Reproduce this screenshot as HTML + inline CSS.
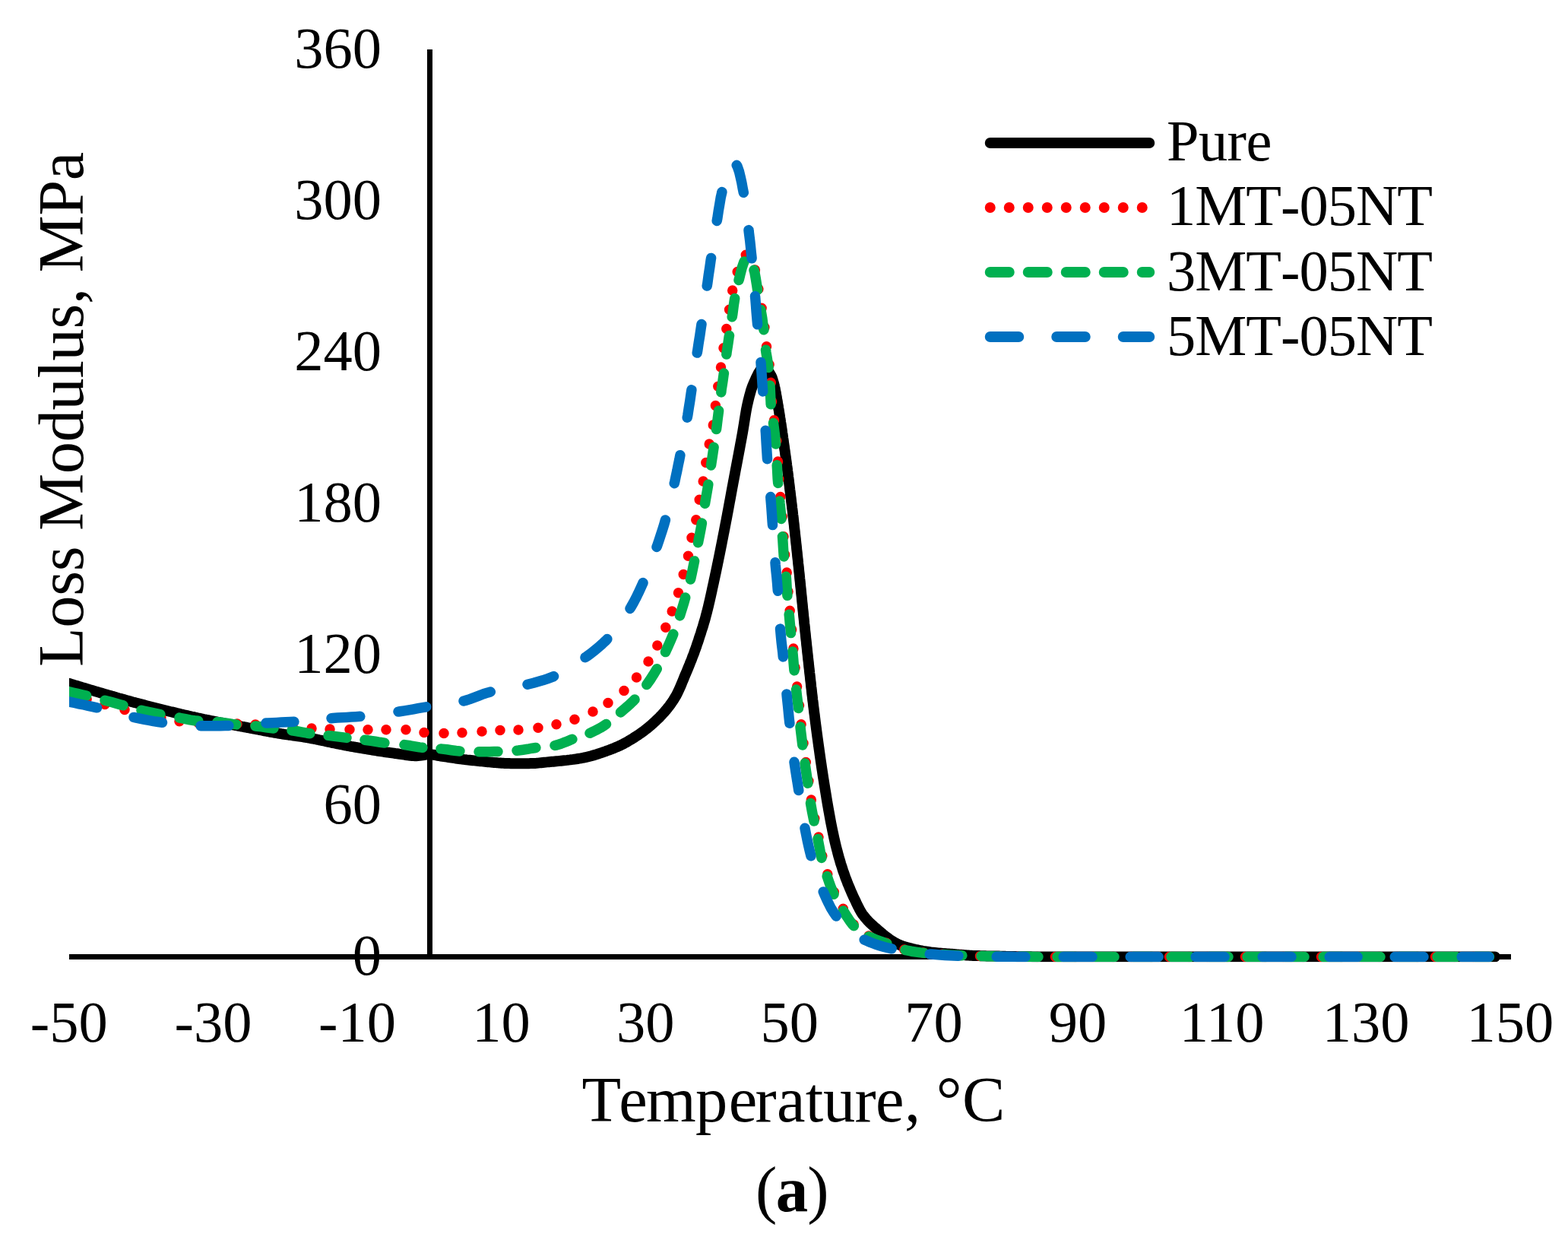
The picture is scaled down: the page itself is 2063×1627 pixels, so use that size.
<!DOCTYPE html>
<html lang="en"><head><meta charset="utf-8"><title>Loss Modulus vs Temperature</title>
<style>html,body{margin:0;padding:0;background:#fff}body{width:2063px;height:1627px;overflow:hidden}svg{display:block}</style>
</head><body>
<svg width="2063" height="1627" viewBox="0 0 2063 1627" role="img" aria-label="Loss modulus versus temperature chart"><defs><clipPath id="plot"><rect x="91" y="0" width="1900" height="1265.20"/></clipPath></defs><rect x="91" y="1255" width="1897" height="7" fill="#000"/>
<rect x="562" y="65" width="7" height="1193" fill="#000"/>
<g clip-path="url(#plot)" fill="none" stroke-width="13.5" stroke-linecap="round" stroke-linejoin="round">
<path d="M60.0 890.0L62.0 890.6L64.0 891.2L66.0 891.7L68.0 892.3L70.0 892.9L72.0 893.5L74.0 894.0L76.0 894.6L78.0 895.2L80.0 895.8L82.0 896.4L84.0 896.9L86.0 897.5L88.0 898.1L90.0 898.7L92.0 899.3L94.0 899.9L96.0 900.5L98.0 901.1L100.0 901.7L102.0 902.3L104.0 902.9L106.0 903.5L108.0 904.1L110.0 904.7L112.0 905.3L114.0 905.9L116.0 906.5L118.0 907.1L120.0 907.7L122.0 908.3L124.0 908.9L126.0 909.5L128.0 910.0L130.0 910.6L132.0 911.2L134.0 911.8L136.0 912.4L138.0 913.0L140.0 913.5L142.0 914.1L144.0 914.7L146.0 915.3L148.0 915.9L150.0 916.4L152.0 917.0L154.0 917.6L156.0 918.2L158.0 918.7L160.0 919.3L162.0 919.9L164.0 920.4L166.0 921.0L168.0 921.5L170.0 922.1L172.0 922.6L174.0 923.2L176.0 923.7L178.0 924.3L180.0 924.8L182.0 925.3L184.0 925.9L186.0 926.4L188.0 926.9L190.0 927.4L192.0 928.0L194.0 928.5L196.0 929.0L198.0 929.5L200.0 930.0L202.0 930.5L204.0 931.0L206.0 931.5L208.0 932.0L210.0 932.5L212.0 933.0L214.0 933.5L216.0 934.0L218.0 934.5L220.0 935.0L222.0 935.5L224.0 936.0L226.0 936.4L228.0 936.9L230.0 937.4L232.0 937.9L234.0 938.3L236.0 938.8L238.0 939.3L240.0 939.7L242.0 940.2L244.0 940.7L246.0 941.1L248.0 941.6L250.0 942.0L252.0 942.5L254.0 942.9L256.0 943.4L258.0 943.8L260.0 944.3L262.0 944.7L264.0 945.1L266.0 945.5L268.0 946.0L270.0 946.4L272.0 946.8L274.0 947.2L276.0 947.6L278.0 948.0L280.0 948.4L282.0 948.8L284.0 949.2L286.0 949.6L288.0 950.0L290.0 950.4L292.0 950.7L294.0 951.1L296.0 951.5L298.0 951.9L300.0 952.2L302.0 952.6L304.0 953.0L306.0 953.3L308.0 953.7L310.0 954.1L312.0 954.4L314.0 954.8L316.0 955.2L318.0 955.6L320.0 955.9L322.0 956.3L324.0 956.7L326.0 957.1L328.0 957.4L330.0 957.8L332.0 958.2L334.0 958.6L336.0 959.0L338.0 959.4L340.0 959.7L342.0 960.1L344.0 960.5L346.0 960.9L348.0 961.3L350.0 961.7L352.0 962.0L354.0 962.4L356.0 962.8L358.0 963.1L360.0 963.5L362.0 963.8L364.0 964.2L366.0 964.5L368.0 964.8L370.0 965.2L372.0 965.5L374.0 965.8L376.0 966.1L378.0 966.4L380.0 966.7L382.0 966.9L384.0 967.2L386.0 967.5L388.0 967.7L390.0 968.0L392.0 968.3L394.0 968.6L396.0 968.9L398.0 969.2L400.0 969.5L402.0 969.8L404.0 970.2L406.0 970.5L408.0 970.9L410.0 971.3L412.0 971.7L414.0 972.0L416.0 972.4L418.0 972.8L420.0 973.3L422.0 973.7L424.0 974.1L426.0 974.5L428.0 974.9L430.0 975.4L432.0 975.8L434.0 976.2L436.0 976.6L438.0 977.1L440.0 977.5L442.0 977.9L444.0 978.3L446.0 978.7L448.0 979.1L450.0 979.5L452.0 979.9L454.0 980.3L456.0 980.7L458.0 981.1L460.0 981.4L462.0 981.8L464.0 982.1L466.0 982.5L468.0 982.8L470.0 983.2L472.0 983.5L474.0 983.9L476.0 984.2L478.0 984.5L480.0 984.9L482.0 985.2L484.0 985.5L486.0 985.9L488.0 986.2L490.0 986.5L492.0 986.8L494.0 987.1L496.0 987.5L498.0 987.8L500.0 988.1L502.0 988.4L504.0 988.7L506.0 989.0L508.0 989.3L510.0 989.6L512.0 989.8L514.0 990.1L516.0 990.4L518.0 990.7L520.0 991.0L522.0 991.2L524.0 991.5L526.0 991.8L528.0 992.1L530.0 992.4L532.0 992.7L534.0 993.0L536.0 993.3L538.0 993.5L540.0 993.8L542.0 994.0L544.0 994.1L546.0 994.2L548.0 994.2L550.0 994.1L552.0 993.9L554.0 993.6L556.0 993.3L558.0 993.0L560.0 992.7L562.0 992.4L564.0 992.3L566.0 992.3L568.0 992.5L570.0 992.7L572.0 993.0L574.0 993.4L576.0 993.8L578.0 994.2L580.0 994.5L582.0 994.8L584.0 995.1L586.0 995.4L588.0 995.7L590.0 996.0L592.0 996.3L594.0 996.6L596.0 996.9L598.0 997.2L600.0 997.5L602.0 997.8L604.0 998.1L606.0 998.4L608.0 998.6L610.0 998.9L612.0 999.1L614.0 999.4L616.0 999.6L618.0 999.8L620.0 1000.0L622.0 1000.2L624.0 1000.4L626.0 1000.6L628.0 1000.8L630.0 1001.0L632.0 1001.2L634.0 1001.4L636.0 1001.6L638.0 1001.8L640.0 1002.0L642.0 1002.2L644.0 1002.4L646.0 1002.6L648.0 1002.8L650.0 1002.9L652.0 1003.1L654.0 1003.2L656.0 1003.4L658.0 1003.5L660.0 1003.7L662.0 1003.8L664.0 1003.9L666.0 1004.0L668.0 1004.1L670.0 1004.1L672.0 1004.2L674.0 1004.2L676.0 1004.3L678.0 1004.3L680.0 1004.3L682.0 1004.3L684.0 1004.3L686.0 1004.3L688.0 1004.3L690.0 1004.2L692.0 1004.2L694.0 1004.2L696.0 1004.2L698.0 1004.1L700.0 1004.1L702.0 1004.0L704.0 1003.9L706.0 1003.8L708.0 1003.6L710.0 1003.4L712.0 1003.2L714.0 1003.0L716.0 1002.8L718.0 1002.6L720.0 1002.4L722.0 1002.2L724.0 1002.0L726.0 1001.8L728.0 1001.7L730.0 1001.5L732.0 1001.3L734.0 1001.1L736.0 1000.9L738.0 1000.7L740.0 1000.5L742.0 1000.3L744.0 1000.1L746.0 999.9L748.0 999.6L750.0 999.4L752.0 999.1L754.0 998.9L756.0 998.6L758.0 998.3L760.0 998.0L762.0 997.7L764.0 997.4L766.0 997.0L768.0 996.6L770.0 996.2L772.0 995.7L774.0 995.2L776.0 994.7L778.0 994.2L780.0 993.6L782.0 993.1L784.0 992.5L786.0 991.8L788.0 991.2L790.0 990.5L792.0 989.9L794.0 989.2L796.0 988.5L798.0 987.7L800.0 987.0L802.0 986.3L804.0 985.5L806.0 984.7L808.0 983.9L810.0 983.1L812.0 982.3L814.0 981.4L816.0 980.5L818.0 979.5L820.0 978.5L822.0 977.4L824.0 976.3L825.8 975.3L827.5 974.3L829.2 973.3L831.0 972.2L832.8 971.1L834.5 970.0L836.2 968.9L838.0 967.8L839.8 966.6L841.5 965.4L843.2 964.2L845.0 962.9L846.8 961.7L848.5 960.3L850.2 959.0L852.0 957.6L853.8 956.1L855.5 954.7L857.2 953.2L858.8 951.8L860.2 950.5L861.8 949.1L863.2 947.7L864.8 946.2L866.2 944.8L867.8 943.3L869.2 941.7L870.8 940.1L872.2 938.5L873.8 936.9L875.2 935.1L876.8 933.4L878.2 931.5L879.5 929.9L880.8 928.3L882.0 926.6L883.2 924.8L884.5 923.0L885.8 921.1L887.0 919.1L888.2 917.1L889.5 915.0L890.5 913.2L891.5 911.2L892.5 909.1L893.5 906.9L894.5 904.7L895.5 902.4L896.5 900.0L897.5 897.5L898.5 895.1L899.5 892.7L900.5 890.2L901.5 887.8L902.5 885.5L903.5 883.1L904.5 880.7L905.5 878.3L906.5 875.8L907.5 873.4L908.2 871.5L909.0 869.6L909.8 867.7L910.5 865.8L911.2 863.8L912.0 861.9L912.8 859.9L913.5 857.9L914.2 855.8L915.0 853.7L915.8 851.6L916.5 849.4L917.2 847.2L918.0 845.0L918.8 842.7L919.5 840.4L920.2 838.1L921.0 835.8L921.8 833.5L922.5 831.1L923.2 828.7L924.0 826.4L924.8 824.0L925.5 821.5L926.2 819.0L927.0 816.5L927.8 813.8L928.5 811.1L929.2 808.3L930.0 805.4L930.5 803.4L931.0 801.4L931.5 799.4L932.0 797.3L932.5 795.2L933.0 793.0L933.5 790.9L934.0 788.7L934.5 786.5L935.0 784.2L935.5 782.0L936.0 779.7L936.5 777.4L937.0 775.1L937.5 772.8L938.0 770.5L938.5 768.2L939.0 765.9L939.5 763.6L940.0 761.2L940.5 758.9L941.0 756.6L941.5 754.2L942.0 751.9L942.5 749.5L943.0 747.1L943.5 744.7L944.0 742.3L944.5 739.9L945.0 737.5L945.5 735.0L946.0 732.6L946.5 730.1L947.0 727.6L947.5 725.1L948.0 722.6L948.5 720.1L949.0 717.6L949.5 715.1L950.0 712.5L950.5 710.0L951.0 707.4L951.5 704.9L952.0 702.3L952.5 699.8L953.0 697.2L953.5 694.6L954.0 692.0L954.5 689.4L955.0 686.8L955.5 684.2L956.0 681.6L956.5 678.9L957.0 676.2L957.5 673.6L958.0 670.9L958.5 668.2L959.0 665.5L959.5 662.8L960.0 660.1L960.5 657.4L961.0 654.7L961.5 652.0L962.0 649.3L962.5 646.5L963.0 643.8L963.5 641.1L964.0 638.4L964.5 635.8L965.0 633.1L965.5 630.4L966.0 627.7L966.5 625.1L967.0 622.4L967.5 619.8L968.0 617.1L968.5 614.5L969.0 611.9L969.5 609.2L970.0 606.6L970.5 604.0L971.0 601.3L971.5 598.7L972.0 596.0L972.5 593.4L973.0 590.7L973.5 588.0L974.0 585.3L974.5 582.6L975.0 579.9L975.5 577.2L976.0 574.4L976.5 571.7L977.0 568.9L977.5 566.0L978.0 563.0L978.5 559.9L979.0 556.8L979.5 553.6L980.0 550.5L980.5 547.4L981.0 544.4L981.5 541.4L982.0 538.6L982.5 536.0L983.0 533.5L983.5 531.2L984.0 529.1L984.5 526.9L985.0 524.9L985.5 522.9L986.0 520.9L986.8 518.1L987.5 515.5L988.2 513.0L989.0 510.7L989.8 508.6L990.5 506.7L991.5 504.4L992.5 502.1L993.5 499.9L994.5 497.6L995.5 495.5L996.5 493.4L997.5 491.5L998.5 489.7L999.8 487.7L1001.0 486.0L1002.5 484.5L1004.5 483.5L1006.5 483.9L1008.2 485.1L1009.8 486.7L1011.0 488.4L1012.2 490.3L1013.5 492.3L1014.8 494.5L1015.8 496.8L1016.5 499.0L1017.2 501.4L1018.0 504.1L1018.8 507.0L1019.2 509.1L1019.8 511.5L1020.2 514.0L1020.8 516.6L1021.2 519.4L1021.8 522.2L1022.2 525.1L1022.8 528.0L1023.2 530.9L1023.8 533.8L1024.2 536.8L1024.8 539.8L1025.2 542.9L1025.8 546.0L1026.2 549.2L1026.8 552.5L1027.2 555.7L1027.8 559.0L1028.2 562.3L1028.8 565.7L1029.2 569.1L1029.8 572.6L1030.2 576.1L1030.8 579.7L1031.2 583.2L1031.8 586.8L1032.2 590.4L1032.8 593.9L1033.2 597.5L1033.8 601.1L1034.2 604.7L1034.8 608.4L1035.2 612.1L1035.8 615.8L1036.2 619.6L1036.8 623.5L1037.2 627.5L1037.5 629.5L1037.8 631.5L1038.0 633.5L1038.2 635.6L1038.5 637.6L1038.8 639.7L1039.0 641.8L1039.2 643.8L1039.5 645.9L1039.8 647.9L1040.0 650.0L1040.2 652.1L1040.5 654.1L1040.8 656.2L1041.0 658.2L1041.2 660.3L1041.5 662.3L1041.8 664.4L1042.0 666.4L1042.2 668.5L1042.5 670.6L1042.8 672.7L1043.0 674.8L1043.2 677.0L1043.5 679.1L1043.8 681.3L1044.0 683.5L1044.2 685.7L1044.5 688.0L1044.8 690.2L1045.0 692.5L1045.2 694.8L1045.5 697.1L1045.8 699.4L1046.0 701.7L1046.2 704.0L1046.5 706.3L1046.8 708.6L1047.0 710.9L1047.2 713.2L1047.5 715.6L1047.8 717.9L1048.0 720.2L1048.2 722.5L1048.5 724.9L1048.8 727.2L1049.0 729.6L1049.2 731.9L1049.5 734.3L1049.8 736.7L1050.0 739.0L1050.2 741.4L1050.5 743.8L1050.8 746.2L1051.0 748.6L1051.2 751.0L1051.5 753.4L1051.8 755.8L1052.0 758.3L1052.2 760.7L1052.5 763.1L1052.8 765.6L1053.0 768.0L1053.2 770.5L1053.5 773.0L1053.8 775.5L1054.0 778.0L1054.2 780.5L1054.5 783.0L1054.8 785.5L1055.0 788.0L1055.2 790.5L1055.5 793.0L1055.8 795.5L1056.0 798.0L1056.2 800.5L1056.5 802.9L1056.8 805.4L1057.0 807.8L1057.2 810.3L1057.5 812.7L1057.8 815.1L1058.0 817.5L1058.2 819.9L1058.5 822.3L1058.8 824.7L1059.0 827.1L1059.2 829.5L1059.5 831.9L1059.8 834.3L1060.0 836.6L1060.2 839.0L1060.5 841.4L1060.8 843.7L1061.0 846.1L1061.2 848.4L1061.5 850.7L1061.8 853.1L1062.0 855.4L1062.2 857.7L1062.5 860.0L1062.8 862.3L1063.0 864.6L1063.2 866.9L1063.5 869.2L1063.8 871.5L1064.0 873.7L1064.2 876.0L1064.5 878.3L1064.8 880.6L1065.0 882.8L1065.2 885.1L1065.5 887.3L1065.8 889.6L1066.0 891.8L1066.2 894.0L1066.5 896.3L1066.8 898.5L1067.0 900.8L1067.2 903.0L1067.5 905.2L1067.8 907.4L1068.0 909.6L1068.2 911.8L1068.5 914.0L1068.8 916.2L1069.0 918.3L1069.2 920.4L1069.5 922.5L1069.8 924.6L1070.0 926.7L1070.2 928.8L1070.5 930.8L1070.8 932.9L1071.0 934.9L1071.2 936.9L1071.5 938.9L1071.8 940.9L1072.0 942.9L1072.5 946.9L1073.0 950.8L1073.5 954.6L1074.0 958.5L1074.5 962.3L1075.0 966.0L1075.5 969.8L1076.0 973.4L1076.5 977.1L1077.0 980.7L1077.5 984.3L1078.0 987.9L1078.5 991.4L1079.0 995.0L1079.5 998.4L1080.0 1001.9L1080.5 1005.3L1081.0 1008.7L1081.5 1012.0L1082.0 1015.3L1082.5 1018.6L1083.0 1021.8L1083.5 1025.0L1084.0 1028.2L1084.5 1031.3L1085.0 1034.4L1085.5 1037.5L1086.0 1040.6L1086.5 1043.7L1087.0 1046.7L1087.5 1049.8L1088.0 1052.8L1088.5 1055.8L1089.0 1058.7L1089.5 1061.6L1090.0 1064.4L1090.5 1067.2L1091.0 1070.0L1091.5 1072.8L1092.0 1075.5L1092.5 1078.2L1093.0 1080.9L1093.5 1083.5L1094.0 1086.0L1094.5 1088.5L1095.0 1091.0L1095.5 1093.4L1096.0 1095.8L1096.5 1098.1L1097.0 1100.4L1097.5 1102.7L1098.0 1104.9L1098.5 1107.1L1099.0 1109.3L1099.5 1111.4L1100.0 1113.4L1100.5 1115.4L1101.0 1117.3L1101.8 1120.2L1102.5 1123.0L1103.2 1125.7L1104.0 1128.4L1104.8 1131.0L1105.5 1133.5L1106.2 1136.0L1107.0 1138.4L1107.8 1140.8L1108.5 1143.1L1109.2 1145.3L1110.0 1147.5L1110.8 1149.7L1111.5 1151.7L1112.2 1153.8L1113.0 1155.8L1113.8 1157.8L1114.5 1159.7L1115.2 1161.7L1116.0 1163.6L1116.8 1165.4L1117.8 1167.9L1118.8 1170.2L1119.8 1172.6L1120.8 1174.9L1121.8 1177.1L1122.8 1179.3L1123.8 1181.4L1124.8 1183.5L1125.8 1185.6L1126.8 1187.8L1127.8 1189.8L1128.8 1191.9L1129.8 1193.8L1130.8 1195.8L1131.8 1197.6L1133.0 1199.7L1134.2 1201.7L1135.5 1203.4L1136.8 1205.1L1138.0 1206.7L1139.5 1208.4L1141.0 1210.1L1142.5 1211.7L1144.0 1213.2L1145.5 1214.7L1147.0 1216.1L1148.5 1217.4L1150.2 1218.9L1152.0 1220.5L1153.8 1222.0L1155.5 1223.5L1157.2 1225.0L1159.0 1226.5L1160.8 1227.9L1162.5 1229.4L1164.2 1230.8L1166.0 1232.1L1167.8 1233.4L1169.5 1234.7L1171.2 1236.0L1173.0 1237.1L1174.8 1238.3L1176.5 1239.3L1178.2 1240.3L1180.2 1241.3L1182.2 1242.3L1184.2 1243.1L1186.2 1243.8L1188.2 1244.5L1190.2 1245.2L1192.2 1245.8L1194.2 1246.4L1196.2 1246.9L1198.2 1247.4L1200.2 1247.9L1202.2 1248.3L1204.2 1248.8L1206.2 1249.2L1208.2 1249.6L1210.2 1250.0L1212.2 1250.4L1214.2 1250.8L1216.2 1251.1L1218.2 1251.4L1220.2 1251.8L1222.2 1252.0L1224.2 1252.3L1226.2 1252.6L1228.2 1252.8L1230.2 1253.0L1232.2 1253.2L1234.2 1253.4L1236.2 1253.6L1238.2 1253.7L1240.2 1253.9L1242.2 1254.1L1244.2 1254.2L1246.2 1254.4L1248.2 1254.5L1250.2 1254.7L1252.2 1254.8L1254.2 1255.0L1256.2 1255.1L1258.2 1255.3L1260.2 1255.4L1262.2 1255.6L1264.2 1255.8L1266.2 1256.0L1268.2 1256.1L1270.2 1256.3L1272.2 1256.5L1274.2 1256.6L1276.2 1256.7L1278.2 1256.8L1280.2 1256.9L1282.2 1257.0L1284.2 1257.0L1286.2 1257.1L1288.2 1257.1L1290.2 1257.2L1292.2 1257.2L1294.2 1257.3L1296.2 1257.3L1298.2 1257.4L1300.2 1257.4L1302.2 1257.4L1304.2 1257.5L1306.2 1257.5L1308.2 1257.5L1310.2 1257.6L1312.2 1257.6L1314.2 1257.6L1316.2 1257.7L1318.2 1257.7L1320.2 1257.8L1322.2 1257.8L1324.2 1257.9L1326.2 1257.9L1328.2 1258.0L1330.2 1258.0L1332.2 1258.0L1334.2 1258.1L1336.2 1258.1L1338.2 1258.2L1340.2 1258.2L1342.2 1258.2L1344.2 1258.2L1346.2 1258.3L1348.2 1258.3L1350.2 1258.3L1352.2 1258.3L1354.2 1258.3L1356.2 1258.3L1358.2 1258.4L1360.2 1258.4L1362.2 1258.4L1364.2 1258.4L1366.2 1258.4L1368.2 1258.4L1370.2 1258.4L1372.2 1258.4L1374.2 1258.4L1376.2 1258.4L1378.2 1258.5L1380.2 1258.5L1382.2 1258.5L1384.2 1258.5L1386.2 1258.5L1388.2 1258.5L1390.2 1258.5L1392.2 1258.5L1394.2 1258.5L1396.2 1258.5L1398.2 1258.5L1400.2 1258.5L1402.2 1258.5L1404.2 1258.5L1406.2 1258.5L1408.2 1258.5L1410.2 1258.5L1412.2 1258.5L1414.2 1258.5L1416.2 1258.5L1418.2 1258.5L1420.2 1258.5L1422.2 1258.5L1424.2 1258.5L1426.2 1258.5L1428.2 1258.5L1430.2 1258.5L1432.2 1258.5L1434.2 1258.5L1436.2 1258.5L1438.2 1258.5L1440.2 1258.5L1442.2 1258.5L1444.2 1258.5L1446.2 1258.5L1448.2 1258.5L1450.2 1258.5L1452.2 1258.5L1454.2 1258.5L1456.2 1258.5L1458.2 1258.5L1460.2 1258.5L1462.2 1258.5L1464.2 1258.5L1466.2 1258.5L1468.2 1258.5L1470.2 1258.5L1472.2 1258.5L1474.2 1258.5L1476.2 1258.5L1478.2 1258.5L1480.2 1258.5L1482.2 1258.5L1484.2 1258.5L1486.2 1258.5L1488.2 1258.5L1490.2 1258.5L1492.2 1258.5L1494.2 1258.5L1496.2 1258.5L1498.2 1258.5L1500.2 1258.5L1502.2 1258.5L1504.2 1258.5L1506.2 1258.5L1508.2 1258.5L1510.2 1258.5L1512.2 1258.5L1514.2 1258.5L1516.2 1258.5L1518.2 1258.5L1520.2 1258.5L1522.2 1258.5L1524.2 1258.5L1526.2 1258.5L1528.2 1258.5L1530.2 1258.5L1532.2 1258.5L1534.2 1258.5L1536.2 1258.5L1538.2 1258.5L1540.2 1258.5L1542.2 1258.5L1544.2 1258.5L1546.2 1258.5L1548.2 1258.5L1550.2 1258.5L1552.2 1258.5L1554.2 1258.5L1556.2 1258.5L1558.2 1258.5L1560.2 1258.5L1562.2 1258.5L1564.2 1258.5L1566.2 1258.5L1568.2 1258.5L1570.2 1258.5L1572.2 1258.5L1574.2 1258.5L1576.2 1258.5L1578.2 1258.5L1580.2 1258.5L1582.2 1258.5L1584.2 1258.5L1586.2 1258.5L1588.2 1258.5L1590.2 1258.5L1592.2 1258.5L1594.2 1258.5L1596.2 1258.5L1598.2 1258.5L1600.2 1258.5L1602.2 1258.5L1604.2 1258.5L1606.2 1258.5L1608.2 1258.5L1610.2 1258.5L1612.2 1258.5L1614.2 1258.5L1616.2 1258.5L1618.2 1258.5L1620.2 1258.5L1622.2 1258.5L1624.2 1258.5L1626.2 1258.5L1628.2 1258.5L1630.2 1258.5L1632.2 1258.5L1634.2 1258.5L1636.2 1258.5L1638.2 1258.5L1640.2 1258.5L1642.2 1258.5L1644.2 1258.5L1646.2 1258.5L1648.2 1258.5L1650.2 1258.5L1652.2 1258.5L1654.2 1258.5L1656.2 1258.5L1658.2 1258.5L1660.2 1258.5L1662.2 1258.5L1664.2 1258.5L1666.2 1258.5L1668.2 1258.5L1670.2 1258.5L1672.2 1258.5L1674.2 1258.5L1676.2 1258.5L1678.2 1258.5L1680.2 1258.5L1682.2 1258.5L1684.2 1258.5L1686.2 1258.5L1688.2 1258.5L1690.2 1258.5L1692.2 1258.5L1694.2 1258.5L1696.2 1258.5L1698.2 1258.5L1700.2 1258.5L1702.2 1258.5L1704.2 1258.5L1706.2 1258.5L1708.2 1258.5L1710.2 1258.5L1712.2 1258.5L1714.2 1258.5L1716.2 1258.5L1718.2 1258.5L1720.2 1258.5L1722.2 1258.5L1724.2 1258.5L1726.2 1258.5L1728.2 1258.5L1730.2 1258.5L1732.2 1258.5L1734.2 1258.5L1736.2 1258.5L1738.2 1258.5L1740.2 1258.5L1742.2 1258.5L1744.2 1258.5L1746.2 1258.5L1748.2 1258.5L1750.2 1258.5L1752.2 1258.5L1754.2 1258.5L1756.2 1258.5L1758.2 1258.5L1760.2 1258.5L1762.2 1258.5L1764.2 1258.5L1766.2 1258.5L1768.2 1258.5L1770.2 1258.5L1772.2 1258.5L1774.2 1258.5L1776.2 1258.5L1778.2 1258.5L1780.2 1258.5L1782.2 1258.5L1784.2 1258.5L1786.2 1258.5L1788.2 1258.5L1790.2 1258.5L1792.2 1258.5L1794.2 1258.5L1796.2 1258.5L1798.2 1258.5L1800.2 1258.5L1802.2 1258.5L1804.2 1258.5L1806.2 1258.5L1808.2 1258.5L1810.2 1258.5L1812.2 1258.5L1814.2 1258.5L1816.2 1258.5L1818.2 1258.5L1820.2 1258.5L1822.2 1258.5L1824.2 1258.5L1826.2 1258.5L1828.2 1258.5L1830.2 1258.5L1832.2 1258.5L1834.2 1258.5L1836.2 1258.5L1838.2 1258.5L1840.2 1258.5L1842.2 1258.5L1844.2 1258.5L1846.2 1258.5L1848.2 1258.5L1850.2 1258.5L1852.2 1258.5L1854.2 1258.5L1856.2 1258.5L1858.2 1258.5L1860.2 1258.5L1862.2 1258.5L1864.2 1258.5L1866.2 1258.5L1868.2 1258.5L1870.2 1258.5L1872.2 1258.5L1874.2 1258.5L1876.2 1258.5L1878.2 1258.5L1880.2 1258.5L1882.2 1258.5L1884.2 1258.5L1886.2 1258.5L1888.2 1258.5L1890.2 1258.5L1892.2 1258.5L1894.2 1258.5L1896.2 1258.5L1898.2 1258.5L1900.2 1258.5L1902.2 1258.5L1904.2 1258.5L1906.2 1258.5L1908.2 1258.5L1910.2 1258.5L1912.2 1258.5L1914.2 1258.5L1916.2 1258.5L1918.2 1258.5L1920.2 1258.5L1922.2 1258.5L1924.2 1258.5L1926.2 1258.5L1928.2 1258.5L1930.2 1258.5L1932.2 1258.5L1934.2 1258.5L1936.2 1258.5L1938.2 1258.5L1940.2 1258.5L1942.2 1258.5L1944.2 1258.5L1946.2 1258.5L1948.2 1258.5L1950.2 1258.5L1952.2 1258.5L1954.2 1258.5L1956.2 1258.5L1958.2 1258.5L1960.2 1258.5L1962.2 1258.5L1964.2 1258.5L1966.2 1258.5L1967.0 1258.5" stroke="#000" stroke-width="14"/>
<path d="M65.5 907.9h0M90.0 912.8h0M114.1 919.4h0M138.0 926.6h0M164.0 933.4h0M187.9 938.9h0M211.9 944.2h0M236.0 948.7h0M261.3 951.1h0M286.6 951.8h0M312.0 952.1h0M336.0 953.1h0M360.7 954.8h0M385.3 956.5h0M410.0 957.9h0M434.0 958.9h0M460.0 959.4h0M484.0 959.7h0M508.0 959.7h0M534.0 959.7h0M558.0 963.5h0M584.0 964.5h0M608.0 963.7h0M634.0 961.9h0M658.0 960.6h0M682.0 960.1h0M708.0 957.3h0M732.0 952.7h0M756.0 946.2h0M780.0 936.1h0M800.0 924.5h0M821.0 908.6h0M837.5 891.1h0M853.0 870.0h0M864.8 849.0h0M875.8 825.3h0M884.2 804.1h0M892.5 779.7h0M899.2 755.6h0M905.5 731.3h0M910.0 707.3h0M915.8 683.7h0M920.2 657.3h0M925.2 633.1h0M928.8 608.5h0M933.2 583.9h0M938.3 558.9h0M941.4 533.6h0M944.8 508.3h0M948.5 483.0h0M952.0 457.7h0M955.8 432.5h0M959.6 407.2h0M963.7 382.0h0M970.2 357.4h0M981.3 335.2h0M993.4 354.9h0M997.9 380.0h0M1002.1 405.2h0M1005.9 430.4h0M1008.5 455.8h0M1012.1 479.4h0M1014.2 503.2h0M1015.5 528.1h0M1018.5 552.8h0M1021.7 579.8h0M1023.5 606.9h0M1024.8 630.2h0M1026.8 653.5h0M1029.2 679.6h0M1031.0 705.8h0M1032.6 729.5h0M1035.2 753.0h0M1037.0 778.1h0M1039.2 803.2h0M1041.6 828.1h0M1043.9 853.0h0M1046.1 878.0h0M1048.6 902.9h0M1051.5 927.8h0M1054.1 952.7h0M1057.0 977.6h0M1060.3 1002.4h0M1063.9 1027.2h0M1067.3 1052.0h0M1071.8 1076.6h0M1077.0 1101.1h0M1081.8 1125.7h0M1088.8 1149.7h0M1097.3 1173.3h0M1109.3 1195.2h0M1123.2 1216.0h0M1143.0 1231.1h0M1166.3 1240.2h0M1189.8 1248.9h0M1214.5 1253.1h0M1239.4 1255.3h0M1264.4 1256.6h0M1289.5 1257.4h0M1314.5 1257.9h0M1338.5 1258.2h0M1364.5 1258.4h0M1388.5 1258.5h0M1414.5 1258.5h0M1438.5 1258.5h0M1464.5 1258.5h0M1488.5 1258.5h0M1514.5 1258.5h0M1538.5 1258.5h0M1564.5 1258.5h0M1588.5 1258.5h0M1614.5 1258.5h0M1638.5 1258.5h0M1664.5 1258.5h0M1688.5 1258.5h0M1714.5 1258.5h0M1738.5 1258.5h0M1764.5 1258.5h0M1788.5 1258.5h0M1814.5 1258.5h0M1838.5 1258.5h0M1864.5 1258.5h0M1888.5 1258.5h0M1913.5 1258.5h0M1938.5 1258.5h0" stroke="#f00"/>
<path d="M60.0 903.0L62.0 903.4L65.0 904.1M89.4 909.4L90.0 909.6L96.0 911.0L102.0 912.4L108.0 913.8L113.7 915.1M138.0 921.2L140.0 921.7L146.0 923.3L152.0 925.0L158.0 926.7L162.0 927.8M186.0 934.2L188.0 934.7L194.0 936.1L200.0 937.4L206.0 938.7L210.9 939.7M236.0 944.1L238.0 944.5L244.0 945.7L250.0 946.9L256.0 947.8L260.8 948.3M286.0 949.6L288.0 949.8L294.0 950.6L300.0 951.5L306.0 952.4L310.9 952.9M336.0 955.0L338.0 955.2L344.0 955.9L350.0 956.7L356.0 957.5L360.0 958.0M384.0 960.7L386.0 961.0L392.0 962.0L398.0 963.1L404.0 964.2L407.9 964.7M432.0 967.4L434.0 967.6L440.0 968.4L446.0 969.1L452.0 969.9L456.0 970.4M480.0 973.2L482.0 973.5L488.0 974.4L494.0 975.3L500.0 976.3L505.9 977.1M532.0 979.6L534.0 979.9L540.0 980.8L546.0 981.9L552.0 982.9L555.9 983.3M580.0 984.9L582.0 985.1L588.0 985.8L594.0 986.7L600.0 987.5L604.9 987.9M630.0 988.8L632.0 988.8L638.0 988.8L644.0 988.7L650.0 988.6L655.0 988.5M680.0 987.2L682.0 987.0L688.0 986.2L694.0 985.3L700.0 984.2L704.9 983.5M730.0 980.5L732.0 980.1L738.0 978.2L744.0 975.9L750.0 973.4L752.9 972.3M776.0 964.3L778.0 963.4L784.0 960.5L789.8 957.4L795.0 954.2L797.5 952.5M816.5 936.9L818.2 935.4L823.5 930.9L828.2 926.7L832.8 922.4L835.1 920.1M850.8 900.6L852.0 898.9L855.8 893.5L859.5 887.7L863.2 881.6L864.3 879.8M875.5 857.6L876.5 855.4L879.5 848.9L882.5 842.0L885.5 834.8L885.8 834.1M894.5 809.9L895.2 807.6L897.5 800.3L899.8 792.7L901.7 786.0M908.5 762.0L909.0 759.9L910.5 753.1L912.0 745.7L913.5 738.3L913.6 737.9M918.5 713.7L919.0 711.2L920.5 703.6L922.0 695.9L923.4 688.1M927.5 662.3L928.0 659.3L929.5 650.8L931.0 642.1L931.8 637.2M935.5 612.1L936.0 608.8L937.5 598.9L939.0 588.8L939.1 588.3M942.5 564.6L943.0 560.8L944.2 551.0L945.0 544.9L945.6 540.2M948.8 515.9L949.2 512.3L950.8 502.2L952.2 492.1L952.4 491.0M955.8 466.1L956.2 462.6L957.8 452.5L959.2 442.8L959.5 441.4M963.2 416.8L963.8 413.4L965.2 402.3L966.7 392.5M972.0 368.5L972.8 365.6L974.2 359.7L976.2 352.1L978.5 345.4L979.2 343.9M992.0 355.3L992.8 357.9L994.2 365.8L995.8 375.7L996.6 381.4M1001.0 407.6L1001.2 409.1L1002.8 418.5L1004.2 429.1L1004.9 433.8M1007.5 460.2L1008.0 463.8L1009.5 472.7L1011.0 482.9L1011.1 483.5M1013.0 506.9L1013.2 511.1L1014.0 527.7L1014.2 531.8M1017.5 556.4L1018.0 560.3L1019.0 568.3L1019.8 574.9L1020.5 582.7L1020.6 584.0M1022.2 611.8L1022.5 616.7L1023.2 629.8L1023.7 635.4M1025.8 659.0L1026.0 661.6L1026.8 669.3L1027.5 677.3L1027.9 682.4M1029.5 705.8L1029.8 709.5L1030.5 720.9L1031.2 731.2L1031.3 732.1M1034.2 758.3L1034.5 761.7L1035.2 774.1L1035.9 783.3M1038.2 808.3L1038.5 811.0L1039.2 819.1L1040.0 827.2L1040.5 832.6M1042.8 856.9L1043.0 859.6L1043.8 868.1L1044.5 876.5L1045.0 881.9M1047.5 907.0L1047.8 909.2L1048.5 915.5L1049.8 925.4L1050.5 931.5M1053.0 956.0L1053.2 958.3L1054.0 964.9L1054.8 971.3L1055.5 977.5L1055.8 980.0M1059.0 1004.0L1059.5 1007.5L1061.0 1017.6L1062.5 1027.6L1062.9 1030.2M1066.5 1056.4L1067.0 1059.4L1068.5 1067.7L1070.0 1075.3L1071.0 1080.0M1076.0 1103.5L1076.5 1106.0L1078.0 1113.8L1079.5 1121.7L1080.9 1128.4M1088.2 1152.6L1089.0 1154.8L1091.2 1161.3L1093.5 1167.5L1096.0 1173.8L1097.0 1176.2M1109.5 1198.0L1110.8 1199.9L1114.5 1205.8L1118.2 1211.4L1122.2 1216.6L1123.4 1217.8M1143.0 1231.8L1145.0 1232.8L1151.0 1235.3L1157.0 1237.5L1163.0 1239.6L1166.9 1241.0M1191.0 1249.6L1193.0 1250.0L1199.0 1251.2L1205.0 1252.1L1211.0 1252.9L1215.8 1253.4M1240.8 1255.5L1241.0 1255.5L1247.0 1255.9L1253.0 1256.2L1259.0 1256.5L1265.0 1256.7L1265.9 1256.7M1291.0 1257.5L1293.0 1257.5L1299.0 1257.7L1305.0 1257.8L1311.0 1257.9L1316.0 1258.0M1341.0 1258.2L1343.0 1258.2L1349.0 1258.3L1355.0 1258.3L1361.0 1258.4L1366.0 1258.4M1391.0 1258.5L1393.0 1258.5L1399.0 1258.5L1405.0 1258.5L1411.0 1258.5L1416.0 1258.5M1441.0 1258.5L1443.0 1258.5L1449.0 1258.5L1455.0 1258.5L1461.0 1258.5L1466.0 1258.5M1491.0 1258.5L1493.0 1258.5L1499.0 1258.5L1505.0 1258.5L1511.0 1258.5L1516.0 1258.5M1541.0 1258.5L1543.0 1258.5L1549.0 1258.5L1555.0 1258.5L1561.0 1258.5L1566.0 1258.5M1591.0 1258.5L1593.0 1258.5L1599.0 1258.5L1605.0 1258.5L1611.0 1258.5L1616.0 1258.5M1641.0 1258.5L1643.0 1258.5L1649.0 1258.5L1655.0 1258.5L1661.0 1258.5L1666.0 1258.5M1691.0 1258.5L1693.0 1258.5L1699.0 1258.5L1705.0 1258.5L1711.0 1258.5L1716.0 1258.5M1741.0 1258.5L1743.0 1258.5L1749.0 1258.5L1755.0 1258.5L1761.0 1258.5L1766.0 1258.5M1791.0 1258.5L1793.0 1258.5L1799.0 1258.5L1805.0 1258.5L1811.0 1258.5L1816.0 1258.5M1841.0 1258.5L1843.0 1258.5L1849.0 1258.5L1855.0 1258.5L1861.0 1258.5L1866.0 1258.5M1891.0 1258.5L1893.0 1258.5L1899.0 1258.5L1905.0 1258.5L1911.0 1258.5L1916.0 1258.5M1941.0 1258.5L1943.0 1258.5L1949.0 1258.5L1955.0 1258.5L1959.5 1258.5" stroke="#00b050"/>
<path d="M90.9 923.0L92.0 923.2L98.0 924.5L104.0 925.8L110.0 927.0L116.0 928.3L122.0 929.6L127.6 930.8M176.0 943.4L178.0 943.8L184.0 945.1L190.0 946.3L196.0 947.5L202.0 948.6L208.0 949.5L213.5 950.3M264.0 954.8L266.0 954.8L272.0 954.8L278.0 954.8L284.0 954.7L290.0 954.7L296.0 954.6L300.9 954.6M350.0 951.1L352.0 951.0L358.0 950.7L364.0 950.4L370.0 950.1L376.0 949.8L382.0 949.5L386.9 949.2M436.0 944.7L438.0 944.5L444.0 944.1L450.0 943.8L456.0 943.5L462.0 943.1L468.0 942.7L473.8 942.3M524.0 936.1L526.0 935.8L532.0 934.9L538.0 933.9L544.0 932.8L550.0 931.7L556.0 930.7L560.8 929.8M610.0 922.0L612.0 921.5L618.0 919.6L624.0 917.4L630.0 915.1L636.0 912.8L642.0 910.9L645.3 910.0M694.0 900.2L696.0 899.7L702.0 898.2L708.0 896.5L714.0 894.8L720.0 892.8L726.0 890.6L728.6 889.6M770.0 864.7L771.8 863.5L777.0 859.7L782.2 855.6L787.5 851.3L792.2 847.1L796.8 842.8L798.9 840.6M829.0 800.4L830.2 798.4L833.5 792.6L836.5 786.9L839.5 780.8L842.5 774.3L845.5 767.7L846.0 766.6M864.0 719.4L864.8 717.3L867.0 710.8L869.2 704.1L871.5 697.1L873.8 689.8L875.4 683.9M887.2 635.7L887.8 633.4L889.2 626.5L890.8 619.3L892.2 612.0L893.8 604.5L894.9 598.7M904.2 549.2L904.8 546.2L906.2 536.9L907.8 527.1L909.2 517.2L909.9 512.8M917.2 464.1L917.8 460.8L919.2 451.1L920.8 441.4L922.2 431.6L923.0 426.4M930.2 376.1L930.8 372.6L932.2 362.2L933.8 351.8L935.2 341.6L935.6 339.4M943.2 290.5L943.8 287.4L945.2 277.9L946.8 268.6L948.2 260.1L949.8 253.1L949.9 252.6M969.2 217.3L970.2 219.1L972.5 225.8L974.2 232.9L975.8 240.0L977.2 247.7L978.3 253.3M985.0 302.6L985.2 304.6L986.0 311.0L986.8 317.5L987.5 324.2L988.2 331.3L989.0 338.6L989.1 339.8M993.5 389.5L993.8 392.5L994.5 401.6L995.2 410.9L996.0 420.1L996.6 426.8M1001.0 476.4L1001.2 479.6L1002.0 490.1L1002.8 501.3L1003.5 512.6L1003.7 514.9M1007.2 566.2L1007.5 570.2L1008.2 583.0L1009.0 595.7L1009.5 603.7M1013.8 653.6L1014.0 656.8L1014.8 666.5L1015.5 676.5L1016.2 686.7L1016.5 690.6M1020.0 739.8L1020.2 742.8L1021.0 751.0L1021.8 758.6L1022.5 766.4L1023.2 775.2L1023.4 777.2M1026.5 827.1L1026.8 830.0L1027.5 838.0L1028.2 845.0L1029.0 851.6L1029.8 858.2L1030.3 863.9M1035.0 913.0L1035.2 915.5L1036.0 923.1L1036.8 930.6L1037.5 938.0L1038.2 945.2L1038.9 951.3M1045.0 1002.3L1045.5 1005.9L1047.0 1015.8L1048.5 1025.2L1050.0 1034.4L1050.8 1039.6M1059.0 1089.2L1059.5 1091.9L1061.0 1099.5L1062.5 1106.8L1064.0 1113.6L1065.5 1119.9L1067.0 1125.8M1083.2 1172.9L1084.2 1175.2L1087.2 1182.0L1090.2 1188.3L1093.2 1194.2L1096.8 1200.1L1100.3 1205.0M1137.2 1236.0L1139.2 1236.9L1145.2 1239.5L1151.2 1241.8L1157.2 1243.7L1163.2 1245.5L1169.2 1247.0L1173.2 1247.8M1223.2 1255.0L1225.2 1255.1L1231.2 1255.6L1237.2 1256.1L1243.2 1256.4L1249.2 1256.8L1255.2 1257.1L1260.9 1257.2M1311.2 1258.2L1313.2 1258.3L1319.2 1258.3L1325.2 1258.3L1331.2 1258.3L1337.2 1258.4L1343.2 1258.4L1349.0 1258.4M1399.2 1258.5L1401.2 1258.5L1407.2 1258.5L1413.2 1258.5L1419.2 1258.5L1425.2 1258.5L1431.2 1258.5L1437.0 1258.5M1487.2 1258.5L1489.2 1258.5L1495.2 1258.5L1501.2 1258.5L1507.2 1258.5L1513.2 1258.5L1519.2 1258.5L1524.1 1258.5M1573.2 1258.5L1575.2 1258.5L1581.2 1258.5L1587.2 1258.5L1593.2 1258.5L1599.2 1258.5L1605.2 1258.5L1611.0 1258.5M1661.2 1258.5L1663.2 1258.5L1669.2 1258.5L1675.2 1258.5L1681.2 1258.5L1687.2 1258.5L1693.2 1258.5L1699.0 1258.5M1749.2 1258.5L1751.2 1258.5L1757.2 1258.5L1763.2 1258.5L1769.2 1258.5L1775.2 1258.5L1781.2 1258.5L1786.1 1258.5M1835.2 1258.5L1837.2 1258.5L1843.2 1258.5L1849.2 1258.5L1855.2 1258.5L1861.2 1258.5L1867.2 1258.5L1873.0 1258.5M1923.2 1258.5L1925.2 1258.5L1931.2 1258.5L1937.2 1258.5L1943.2 1258.5L1949.2 1258.5L1955.2 1258.5L1959.0 1258.5" stroke="#0070c0"/>
</g>
<g fill="none" stroke-width="14" stroke-linecap="round">
<path d="M1302.75 188H1512.25" stroke="#000"/>
<path d="M1302.75 273h0M1327.75 273h0M1352.75 273h0M1377.75 273h0M1402.75 273h0M1427.75 273h0M1452.75 273h0M1477.75 273h0M1502.75 273h0" stroke="#f00"/>
<path d="M1302.75 358H1327.75M1352.75 358H1377.75M1402.75 358H1427.75M1452.75 358H1477.75M1502.75 358H1512.25" stroke="#00b050"/>
<path d="M1302.75 443H1340.25M1390.25 443H1427.75M1477.75 443H1512.25" stroke="#0070c0"/>
</g>
<g font-family="'Liberation Serif', serif" fill="#000">
<text x="1535" y="211.2" font-size="76.5" text-anchor="start" style="font-kerning:none" letter-spacing="-0.6">Pure</text>
<text x="1535" y="296.3" font-size="76.5" text-anchor="start" style="font-kerning:none" letter-spacing="-1">1MT-05NT</text>
<text x="1535" y="382.1" font-size="76.5" text-anchor="start" style="font-kerning:none" letter-spacing="-1">3MT-05NT</text>
<text x="1535" y="466.9" font-size="76.5" text-anchor="start" style="font-kerning:none" letter-spacing="-1">5MT-05NT</text>
<text x="502" y="1282.30" font-size="76.5" text-anchor="end">0</text>
<text x="502" y="1083.47" font-size="76.5" text-anchor="end">60</text>
<text x="502" y="884.64" font-size="76.5" text-anchor="end">120</text>
<text x="502" y="685.81" font-size="76.5" text-anchor="end">180</text>
<text x="502" y="486.98" font-size="76.5" text-anchor="end">240</text>
<text x="502" y="288.15" font-size="76.5" text-anchor="end">300</text>
<text x="502" y="89.32" font-size="76.5" text-anchor="end">360</text>
<text x="90.80" y="1369.8" font-size="76.5" text-anchor="middle">-50</text>
<text x="280.40" y="1369.8" font-size="76.5" text-anchor="middle">-30</text>
<text x="470.00" y="1369.8" font-size="76.5" text-anchor="middle">-10</text>
<text x="659.60" y="1369.8" font-size="76.5" text-anchor="middle">10</text>
<text x="849.20" y="1369.8" font-size="76.5" text-anchor="middle">30</text>
<text x="1038.80" y="1369.8" font-size="76.5" text-anchor="middle">50</text>
<text x="1228.40" y="1369.8" font-size="76.5" text-anchor="middle">70</text>
<text x="1418.00" y="1369.8" font-size="76.5" text-anchor="middle">90</text>
<text x="1607.60" y="1369.8" font-size="76.5" text-anchor="middle">110</text>
<text x="1797.20" y="1369.8" font-size="76.5" text-anchor="middle">130</text>
<text x="1986.80" y="1369.8" font-size="76.5" text-anchor="middle">150</text>
<text x="765.5" y="1474.9" font-size="84.5" text-anchor="start" style="font-kerning:none" letter-spacing="-0.45" dx="0 -2.4 -1.4 -0.3 2.1 -2.3 0.8 0.6 0.3 -0.3 -0.2 0.9 0 0.2 1.0">Temperature, °C</text>
<text transform="translate(109.0 538.5) rotate(-90)" font-size="84.5" text-anchor="middle" letter-spacing="-0.37">Loss Modulus, MPa</text>
<text y="1592.5" font-size="85"><tspan x="994">(</tspan><tspan x="1020.7" font-weight="bold">a</tspan><tspan x="1062.2">)</tspan></text>
</g></svg>
</body></html>
